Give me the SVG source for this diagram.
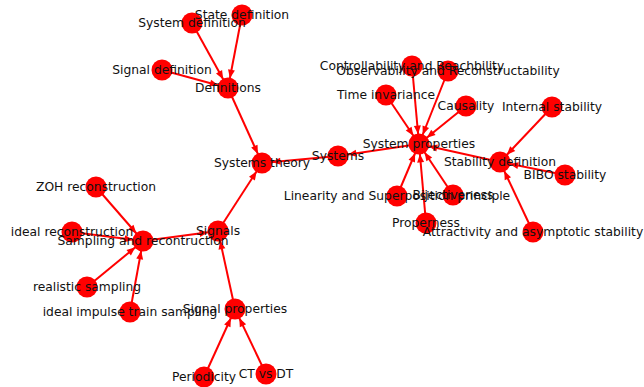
<svg xmlns="http://www.w3.org/2000/svg" width="644" height="387" viewBox="0 0 644 387">
<style>
.n circle{fill:#ff0000}
.n text{font-family:"DejaVu Sans",sans-serif;font-size:12.3px;fill:#111;text-anchor:middle;dominant-baseline:central}
.e line{stroke:#ff0000;stroke-width:2;marker-end:url(#ah)}
</style>
<defs>
<marker id="ah" markerUnits="userSpaceOnUse" markerWidth="20" markerHeight="8" viewBox="0 0 20 8" refX="18.5" refY="3.5" orient="auto" overflow="visible">
<path d="M0,0 L8.5,3.5 L0,7 z" fill="#ff0000"/>
</marker>
</defs>
<rect width="644" height="387" fill="#fff"/>
<g id="edges" class="e">
<line x1="192" y1="23" x2="228" y2="88"/>
<line x1="242" y1="15" x2="228" y2="88"/>
<line x1="162" y1="70" x2="228" y2="88"/>
<line x1="228" y1="88" x2="262" y2="163"/>
<line x1="338" y1="156" x2="262" y2="163"/>
<line x1="218" y1="231" x2="262" y2="163"/>
<line x1="419" y1="144" x2="338" y2="156"/>
<line x1="412" y1="66" x2="419" y2="144"/>
<line x1="448" y1="71" x2="419" y2="144"/>
<line x1="386" y1="95" x2="419" y2="144"/>
<line x1="466" y1="106" x2="419" y2="144"/>
<line x1="397" y1="196" x2="419" y2="144"/>
<line x1="453" y1="195" x2="419" y2="144"/>
<line x1="426" y1="223" x2="419" y2="144"/>
<line x1="500" y1="162" x2="419" y2="144"/>
<line x1="552" y1="107" x2="500" y2="162"/>
<line x1="565" y1="175" x2="500" y2="162"/>
<line x1="533" y1="232" x2="500" y2="162"/>
<line x1="96" y1="187" x2="143" y2="241"/>
<line x1="72" y1="232" x2="143" y2="241"/>
<line x1="87" y1="287" x2="143" y2="241"/>
<line x1="130" y1="312" x2="143" y2="241"/>
<line x1="143" y1="241" x2="218" y2="231"/>
<line x1="235" y1="309" x2="218" y2="231"/>
<line x1="204" y1="377" x2="235" y2="309"/>
<line x1="266" y1="374" x2="235" y2="309"/>
</g>
<g id="nodes" class="n">
<g id="n-state-definition"><circle cx="242" cy="15" r="10.5"/></g>
<g id="n-system-definition"><circle cx="192" cy="23" r="10.5"/></g>
<g id="n-signal-definition"><circle cx="162" cy="70" r="10.5"/></g>
<g id="n-definitions"><circle cx="228" cy="88" r="10.5"/></g>
<g id="n-systems-theory"><circle cx="262" cy="163" r="10.5"/></g>
<g id="n-systems"><circle cx="338" cy="156" r="10.5"/></g>
<g id="n-system-properties"><circle cx="419" cy="144" r="10.5"/></g>
<g id="n-controllability"><circle cx="412" cy="66" r="10.5"/></g>
<g id="n-observability"><circle cx="448" cy="71" r="10.5"/></g>
<g id="n-time-invariance"><circle cx="386" cy="95" r="10.5"/></g>
<g id="n-causality"><circle cx="466" cy="106" r="10.5"/></g>
<g id="n-internal-stability"><circle cx="552" cy="107" r="10.5"/></g>
<g id="n-stability-definition"><circle cx="500" cy="162" r="10.5"/></g>
<g id="n-bibo-stability"><circle cx="565" cy="175" r="10.5"/></g>
<g id="n-linearity"><circle cx="397" cy="196" r="10.5"/></g>
<g id="n-bijectiveness"><circle cx="453" cy="195" r="10.5"/></g>
<g id="n-properness"><circle cx="426" cy="223" r="10.5"/></g>
<g id="n-attractivity"><circle cx="533" cy="232" r="10.5"/></g>
<g id="n-zoh"><circle cx="96" cy="187" r="10.5"/></g>
<g id="n-ideal-reconstruction"><circle cx="72" cy="232" r="10.5"/></g>
<g id="n-sampling"><circle cx="143" cy="241" r="10.5"/></g>
<g id="n-signals"><circle cx="218" cy="231" r="10.5"/></g>
<g id="n-realistic-sampling"><circle cx="87" cy="287" r="10.5"/></g>
<g id="n-ideal-impulse"><circle cx="130" cy="312" r="10.5"/></g>
<g id="n-signal-properties"><circle cx="235" cy="309" r="10.5"/></g>
<g id="n-periodicity"><circle cx="204" cy="377" r="10.5"/></g>
<g id="n-ct-vs-dt"><circle cx="266" cy="374" r="10.5"/></g>
</g>
<g id="labels" class="n">
<text x="242" y="15">State definition</text>
<text x="192" y="23">System definition</text>
<text x="162" y="70">Signal definition</text>
<text x="228" y="88">Definitions</text>
<text x="262" y="163">Systems theory</text>
<text x="338" y="156">Systems</text>
<text x="419" y="144">System properties</text>
<text x="412" y="66">Controllability and Reachbility</text>
<text x="448" y="71">Observability and Reconstructability</text>
<text x="386" y="95">Time invariance</text>
<text x="466" y="106">Causality</text>
<text x="552" y="107">Internal stability</text>
<text x="500" y="162">Stability definition</text>
<text x="565" y="175">BIBO stability</text>
<text x="397" y="196">Linearity and Superposition principle</text>
<text x="453" y="195">Bijectiveness</text>
<text x="426" y="223">Properness</text>
<text x="533" y="232">Attractivity and asymptotic stability</text>
<text x="96" y="187">ZOH reconstruction</text>
<text x="72" y="232">ideal reconstruction</text>
<text x="143" y="241">Sampling and recontruction</text>
<text x="218" y="231">Signals</text>
<text x="87" y="287">realistic sampling</text>
<text x="130" y="312">ideal impulse train sampling</text>
<text x="235" y="309">Signal properties</text>
<text x="204" y="377">Periodicity</text>
<text x="266" y="374">CT vs DT</text>
</g>
</svg>
